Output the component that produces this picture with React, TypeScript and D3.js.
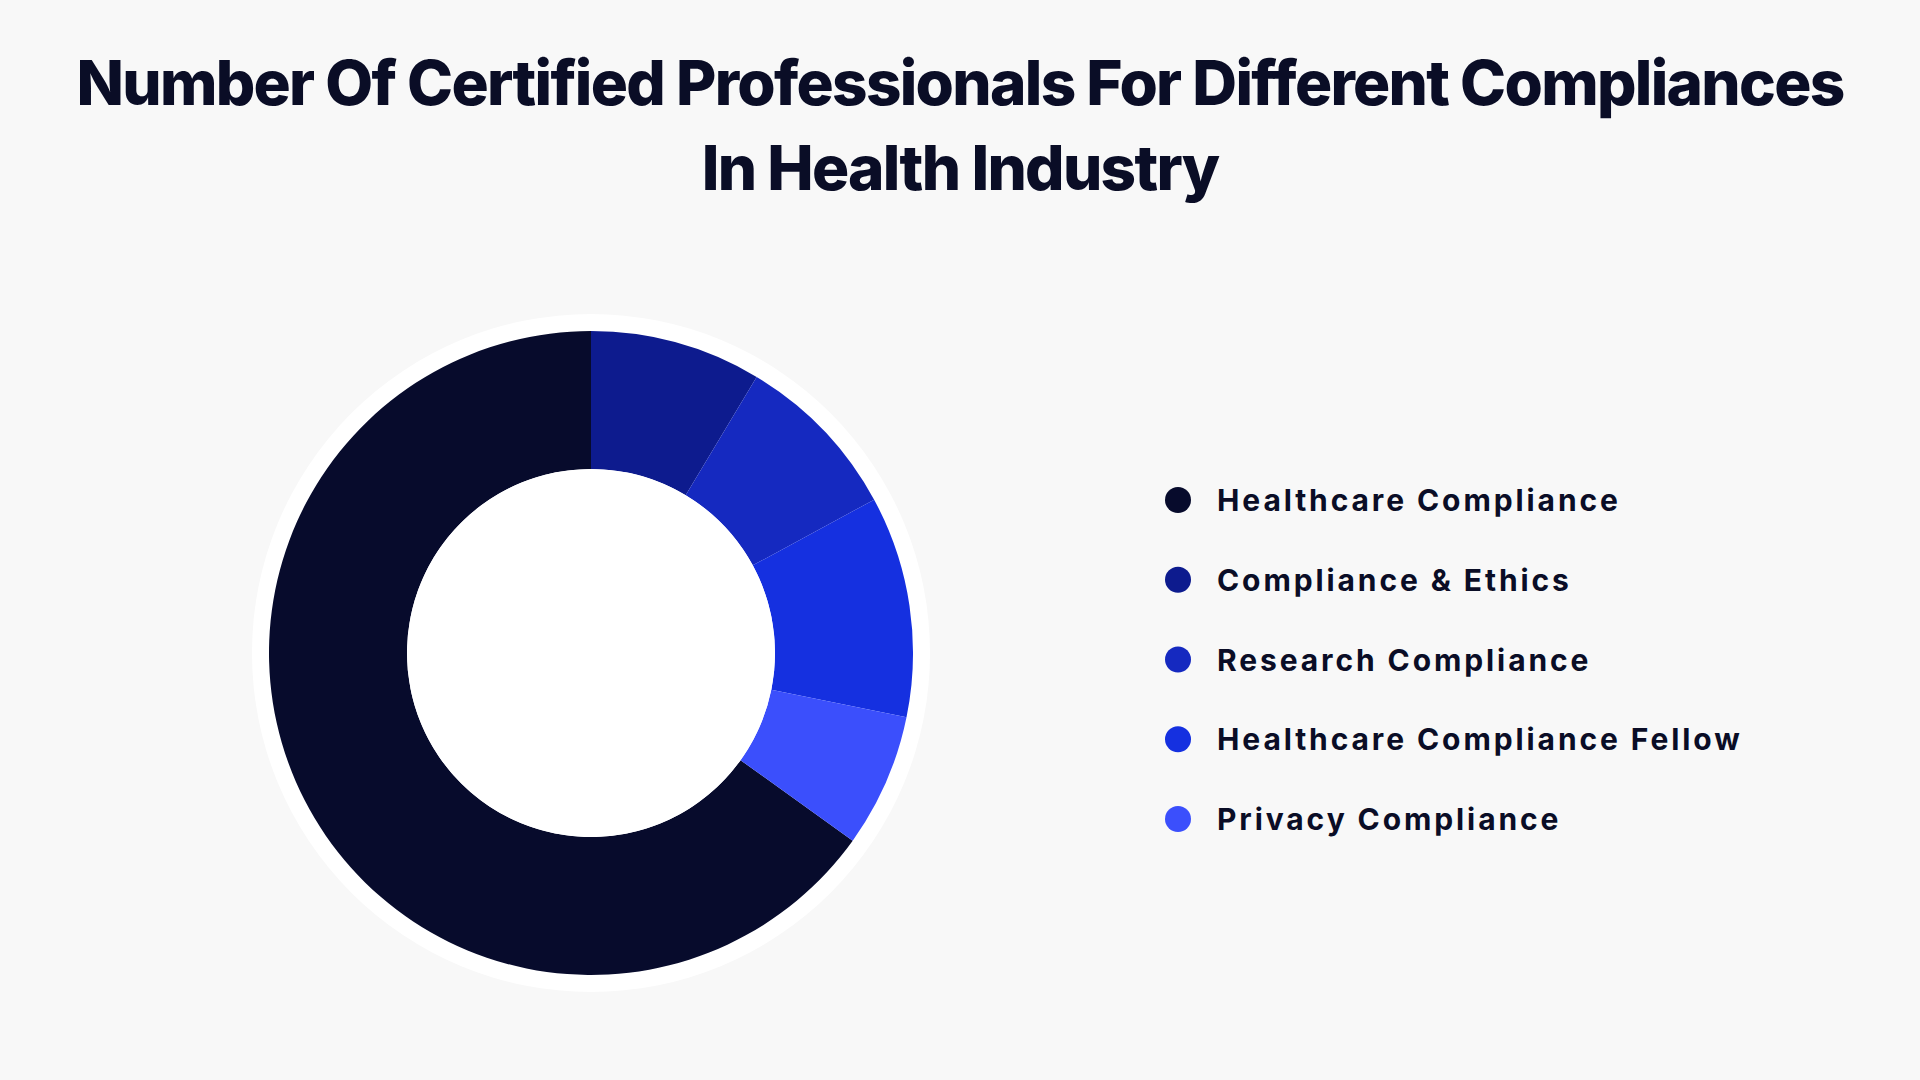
import * as d3 from 'd3';
import React from 'react';

const categories = [
  'Healthcare Compliance',
  'Compliance & Ethics',
  'Research Compliance',
  'Healthcare Compliance Fellow',
  'Privacy Compliance',
];
const values = [65.1, 8.6, 8.5, 11.1, 6.7];
const colors = ['#070b2c', '#0d1b8e', '#1529c0', '#1530e0', '#3b4ffc'];
const titleLines = [
  'Number Of Certified Professionals For Different Compliances',
  'In Health Industry',
];

const W = 1920;
const H = 1080;
const cx = 591;
const cy = 653;
const outerR = 322;
const innerR = 184;
const ringR = 339;

const App = () => {
  const total = d3.sum(values);
  // Healthcare Compliance ends at 12 o'clock, the rest follow clockwise
  const start = (-2 * Math.PI * values[0]) / total;
  const pie = d3
    .pie<number>()
    .sort(null)
    .startAngle(start)
    .endAngle(start + 2 * Math.PI);
  const arcs = pie(values);
  const arc = d3.arc<d3.PieArcDatum<number>>().innerRadius(innerR).outerRadius(outerR);

  const legendY = d3
    .scalePoint<string>()
    .domain(categories)
    .range([500, 819]);

  return (
    <svg
      width={W}
      height={H}
      style={{ position: 'absolute', left: 0, top: 0, background: '#f8f8f8' }}
    >
      <rect width={W} height={H} fill="#f8f8f8" />
      <g
        fontFamily="Inter, 'Noto Sans', sans-serif"
        fontWeight={800}
        fontSize={62}
        letterSpacing={-1.7}
        fill="#0a0d26"
        textAnchor="middle"
      >
        <text x={960} y={105}>{titleLines[0]}</text>
        <text x={960} y={190}>{titleLines[1]}</text>
      </g>

      <g transform={`translate(${cx},${cy})`}>
        <circle r={ringR} fill="#ffffff" />
        {arcs.map((a, i) => (
          <path key={categories[i]} d={arc(a) || ''} fill={colors[i]} />
        ))}
        <circle r={innerR} fill="#ffffff" />
      </g>

      <g fontFamily="Inter, 'Noto Sans', sans-serif" fontWeight={700} fontSize={30} fill="#0a0d26">
        {categories.map((c, i) => (
          <g key={c} transform={`translate(0,${legendY(c)})`}>
            <circle cx={1178} cy={0} r={13} fill={colors[i]} />
            <text x={1217} y={11} letterSpacing={2.9}>
              {c}
            </text>
          </g>
        ))}
      </g>
    </svg>
  );
};

export default App;
